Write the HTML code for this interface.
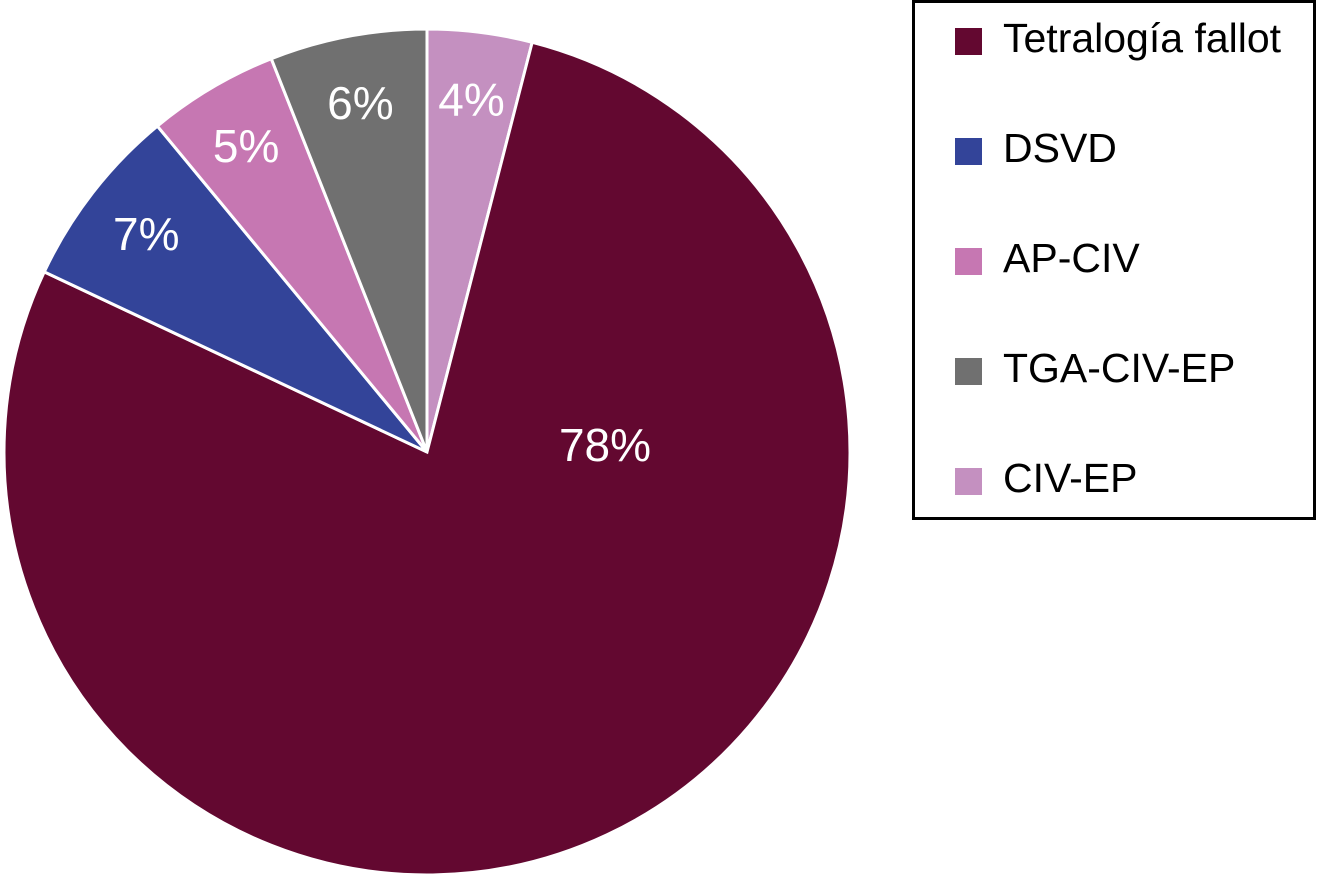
<!DOCTYPE html>
<html><head><meta charset="utf-8">
<style>
html,body{margin:0;padding:0;background:#fff;}
body{width:1321px;height:879px;overflow:hidden;position:relative;font-family:"Liberation Sans",sans-serif;}
.legend{position:absolute;left:912px;top:0px;width:398px;height:514px;border:3px solid #000;background:#fff;}
.item{position:absolute;left:40px;height:40px;}
.sw{position:absolute;left:0;top:6px;width:27px;height:27px;}
.lt{position:absolute;left:48px;top:-7px;font-size:41px;white-space:nowrap;color:#000;}
</style></head>
<body>
<svg id="pie" width="910" height="879" style="position:absolute;left:0;top:0"></svg>
<div class="legend" id="legend"></div>
<script>
const categories = ["CIV-EP","Tetralogía fallot","DSVD","AP-CIV","TGA-CIV-EP"];
const values = [4,78,7,5,6];
const valueLabels = ["4%","78%","7%","5%","6%"];
const colors = ["#c490c0","#630830","#334499","#c677b2","#707070"];
const legendOrder = ["Tetralogía fallot","DSVD","AP-CIV","TGA-CIV-EP","CIV-EP"];

const cx=427, cy=452, R=423;
const svg=document.getElementById('pie');
const NS="http://www.w3.org/2000/svg";
const total=values.reduce((a,b)=>a+b,0);
function pt(a,r){return [cx+r*Math.sin(a), cy-r*Math.cos(a)];}
let acc=0;
values.forEach((v,i)=>{
  const a0=acc/total*2*Math.PI; acc+=v; const a1=acc/total*2*Math.PI;
  const p0=pt(a0,R), p1=pt(a1,R);
  const large=(a1-a0)>Math.PI?1:0;
  const path=document.createElementNS(NS,'path');
  path.setAttribute('d',`M${cx},${cy} L${p0[0]},${p0[1]} A${R},${R} 0 ${large} 1 ${p1[0]},${p1[1]} Z`);
  path.setAttribute('fill',colors[i]);
  path.setAttribute('stroke','#fff');
  path.setAttribute('stroke-width','3');
  
  
  svg.appendChild(path);
  const mid=(a0+a1)/2;
  let lp;
  if(v/total>0.5){ lp=[605,445]; } else { lp=pt(mid,R*0.84); }
  const t=document.createElementNS(NS,'text');
  t.setAttribute('x',lp[0]); t.setAttribute('y',lp[1]+16);
  t.setAttribute('text-anchor','middle');
  t.setAttribute('fill','#fff');
  t.setAttribute('font-size','46');
  t.setAttribute('font-family','Liberation Sans, sans-serif');
  t.textContent=valueLabels[i];
  
  
  svg.appendChild(t);
});
const lg=document.getElementById('legend');
legendOrder.forEach((name,k)=>{
  const i=categories.indexOf(name);
  const it=document.createElement('div');
  it.className='item'; it.style.top=(19+k*110)+'px';
  
  
  const sw=document.createElement('div'); sw.className='sw'; sw.style.background=colors[i];
  
  
  const lt=document.createElement('div'); lt.className='lt'; lt.textContent=name;
  
  
  it.appendChild(sw); it.appendChild(lt); lg.appendChild(it);
});
</script>
</body></html>
